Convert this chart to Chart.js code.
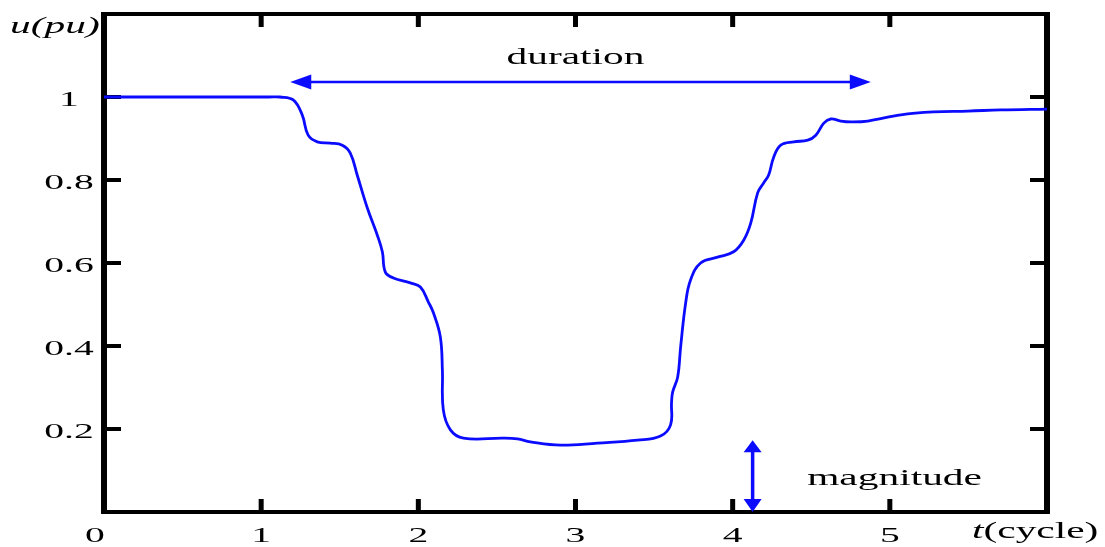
<!DOCTYPE html>
<html>
<head>
<meta charset="utf-8">
<script src="https://cdn.jsdelivr.net/npm/chart.js@4.4.1/dist/chart.umd.min.js"></script>
<style>
  body { margin: 0; background: #fff; }
  #wrap { width: 1105px; height: 547px; }
</style>
</head>
<body>
<div id="wrap"><canvas id="sagChart" width="1105" height="547"></canvas></div>
<script>
// voltage sag, time in cycles vs. per-unit voltage
const tCycles = [0, 0.6, 1.05, 1.12, 1.204, 1.261, 1.299, 1.357, 1.439, 1.516, 1.567, 1.611, 1.675, 1.739, 1.771,
  1.79, 1.841, 1.949, 2.013, 2.064, 2.096, 2.14, 2.153, 2.159, 2.204, 2.287, 2.541, 2.631, 2.713,
  2.904, 3.14, 3.395, 3.541, 3.605, 3.611, 3.618, 3.65, 3.669, 3.701, 3.732, 3.796, 3.904, 4.006,
  4.07, 4.115, 4.159, 4.197, 4.229, 4.261, 4.306, 4.389, 4.478, 4.529, 4.58, 4.624, 4.688, 4.752,
  4.86, 5.07, 5.28, 5.497, 5.707, 6.0];
const uPu = [1.0, 1.0, 1.0, 1.0, 0.993, 0.957, 0.908, 0.892, 0.889, 0.884, 0.865, 0.812, 0.733, 0.667, 0.627,
  0.578, 0.564, 0.552, 0.542, 0.506, 0.48, 0.422, 0.342, 0.246, 0.198, 0.178, 0.178, 0.176, 0.169,
  0.161, 0.166, 0.173, 0.183, 0.21, 0.263, 0.289, 0.325, 0.398, 0.504, 0.559, 0.6, 0.614, 0.627,
  0.655, 0.696, 0.769, 0.793, 0.812, 0.855, 0.884, 0.892, 0.896, 0.908, 0.937, 0.947, 0.942, 0.94,
  0.942, 0.957, 0.964, 0.966, 0.969, 0.971];

const xTicks = [0, 1, 2, 3, 4, 5];
const yTicks = [0.2, 0.4, 0.6, 0.8, 1];

// annotation arrows (data units)
const durationSpan = [1.185, 4.879];
const durationLevel = 1.036;
const magnitudeAt = 4.127;
const magnitudeSpan = [0, 0.173];

const BLUE = '#0b0bff';
const SX = 1.8; // glyphs are drawn wide
const SERIF = '"Liberation Serif", "DejaVu Serif", serif';

function wideText(ctx, text, x, y, font, align) {
  ctx.save();
  ctx.font = font;
  ctx.textAlign = align || 'left';
  ctx.textBaseline = 'alphabetic';
  ctx.translate(x, y);
  ctx.scale(SX, 1);
  ctx.fillText(text, 0, 0);
  ctx.restore();
}

function arrowHead(ctx, x, y, dx, dy, len, half) {
  // tip at (x,y), pointing along (dx,dy)
  const px = -dy, py = dx;
  ctx.beginPath();
  ctx.moveTo(x, y);
  ctx.lineTo(x - dx * len + px * half, y - dy * len + py * half);
  ctx.lineTo(x - dx * len - px * half, y - dy * len - py * half);
  ctx.closePath();
  ctx.fill();
}

const framePlugin = {
  id: 'frame',
  beforeDatasetsDraw(chart) {
    const { ctx, chartArea: a, scales: { x, y } } = chart;
    ctx.save();
    ctx.strokeStyle = '#000';
    ctx.lineCap = 'butt';
    // box
    ctx.lineWidth = 4;
    ctx.beginPath();
    ctx.moveTo(a.left - 3, a.top); ctx.lineTo(a.right + 3, a.top);
    ctx.moveTo(a.left - 3, a.bottom); ctx.lineTo(a.right + 3, a.bottom);
    ctx.stroke();
    ctx.lineWidth = 6;
    ctx.beginPath();
    ctx.moveTo(a.left, a.top - 2); ctx.lineTo(a.left, a.bottom + 2);
    ctx.moveTo(a.right, a.top - 2); ctx.lineTo(a.right, a.bottom + 2);
    ctx.stroke();
    // inward ticks
    ctx.lineWidth = 5;
    ctx.beginPath();
    x.ticks.forEach(t => {
      if (t.value <= 0 || t.value >= 6) return;
      const px = x.getPixelForValue(t.value);
      ctx.moveTo(px, a.bottom); ctx.lineTo(px, a.bottom - 13);
      ctx.moveTo(px, a.top); ctx.lineTo(px, a.top + 13);
    });
    ctx.stroke();
    ctx.lineWidth = 4;
    ctx.beginPath();
    y.ticks.forEach(t => {
      if (t.value <= 0 || t.value >= 1.2) return;
      const py = y.getPixelForValue(t.value);
      ctx.moveTo(a.left, py); ctx.lineTo(a.left + 17, py);
      ctx.moveTo(a.right, py); ctx.lineTo(a.right - 17, py);
    });
    ctx.stroke();
    ctx.restore();
  },
  afterDraw(chart) {
    const { ctx, chartArea: a, scales: { x, y } } = chart;
    ctx.save();
    ctx.fillStyle = '#000';
    const tickFont = '22px ' + SERIF;
    // tick labels
    x.ticks.forEach(t => {
      if (!xTicks.includes(t.value)) return;
      const off = t.value === 0 ? -9 : 0;
      wideText(ctx, String(t.value), x.getPixelForValue(t.value) + off, a.bottom + 30, tickFont, 'center');
    });
    y.ticks.forEach(t => {
      const v = +t.value.toFixed(1);
      if (!yTicks.includes(v)) return;
      wideText(ctx, String(v), a.left - 35, y.getPixelForValue(v) + 9, tickFont, 'center');
    });
    // axis titles
    wideText(ctx, 'u(pu)', a.left - 94, a.top + 19, 'italic 23px ' + SERIF, 'left');
    ctx.font = 'italic 23px ' + SERIF;
    const tw = ctx.measureText('t').width * SX;
    wideText(ctx, 't', a.right - 75, a.bottom + 26, 'italic 23px ' + SERIF, 'left');
    wideText(ctx, '(cycle)', a.right - 75 + tw, a.bottom + 26, '23px ' + SERIF, 'left');

    // duration arrow
    ctx.strokeStyle = BLUE;
    ctx.fillStyle = BLUE;
    ctx.lineWidth = 2.5;
    const x0 = x.getPixelForValue(durationSpan[0]);
    const x1 = x.getPixelForValue(durationSpan[1]);
    const yd = y.getPixelForValue(durationLevel);
    ctx.beginPath();
    ctx.moveTo(x0 + 10, yd); ctx.lineTo(x1 - 10, yd);
    ctx.stroke();
    arrowHead(ctx, x0, yd, -1, 0, 21, 7.5);
    arrowHead(ctx, x1, yd, 1, 0, 21, 7.5);

    // magnitude arrow
    const xm = x.getPixelForValue(magnitudeAt);
    const ym0 = y.getPixelForValue(magnitudeSpan[0]);
    const ym1 = y.getPixelForValue(magnitudeSpan[1]);
    ctx.lineWidth = 3.5;
    ctx.beginPath();
    ctx.moveTo(xm, ym1 + 8); ctx.lineTo(xm, ym0 - 8);
    ctx.stroke();
    arrowHead(ctx, xm, ym1, 0, -1, 12, 9);
    arrowHead(ctx, xm, ym0, 0, 1, 13, 9);

    ctx.fillStyle = '#000';
    wideText(ctx, 'duration', x.getPixelForValue(3.0), y.getPixelForValue(1.08), '23px ' + SERIF, 'center');
    wideText(ctx, 'magnitude', x.getPixelForValue(5.03), y.getPixelForValue(0.065), '23px ' + SERIF, 'center');
    ctx.restore();
  }
};

const points = tCycles.map((t, i) => ({ x: t, y: uPu[i] }));

new Chart(document.getElementById('sagChart'), {
  type: 'line',
  data: {
    datasets: [{
      data: points,
      borderColor: BLUE,
      borderWidth: 2.8,
      pointRadius: 0,
      fill: false,
      tension: 0.4
    }]
  },
  options: {
    responsive: false,
    animation: false,
    layout: { padding: { left: 0, top: 14, right: 58, bottom: 0 } },
    plugins: { legend: { display: false }, tooltip: { enabled: false } },
    scales: {
      x: {
        type: 'linear', min: 0, max: 6,
        ticks: { display: false, stepSize: 1 },
        grid: { display: false },
        border: { display: false },
        afterFit: s => { s.height = 35; }
      },
      y: {
        min: 0, max: 1.2,
        ticks: { display: false, stepSize: 0.2 },
        grid: { display: false },
        border: { display: false },
        afterFit: s => { s.width = 104; }
      }
    }
  },
  plugins: [framePlugin]
});
</script>
</body>
</html>
